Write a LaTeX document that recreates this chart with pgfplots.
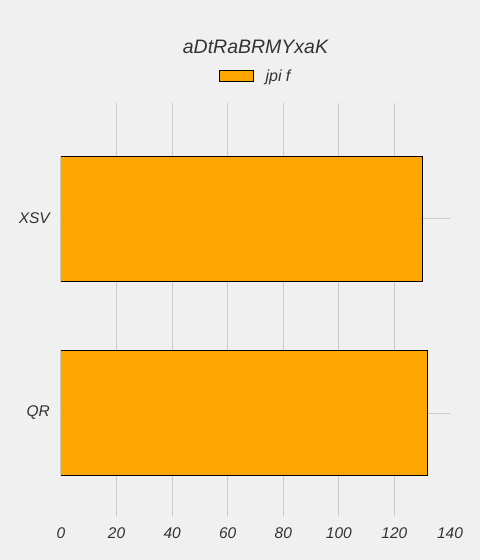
\documentclass[border=0pt]{standalone}
\usepackage{fontspec}
\setmainfont{Liberation Sans}
\usepackage{pgfplots}
\pgfplotsset{compat=1.18}
\definecolor{bg}{HTML}{F0F0F0}
\definecolor{gridc}{HTML}{CBCBCB}
\definecolor{txt}{HTML}{333333}
\definecolor{barc}{HTML}{FFA500}
\begin{document}
\begin{tikzpicture}
\fill[bg] (0pt,0pt) rectangle (480pt,560pt);
\useasboundingbox (0pt,0pt) rectangle (480pt,560pt);
\begin{axis}[
 at={(61pt,44.3pt)}, anchor=south west,
 scale only axis, width=389pt, height=412.7pt,
 xmin=0, xmax=140, ymin=-0.528, ymax=1.594,
 xbar, bar width=125pt,
 xtick={20,40,...,120}, ytick={0,1}, yticklabels={QR,XSV},
 extra x ticks={0,140}, extra x tick style={grid=none},
 axis line style={draw=none}, major tick length=0pt,
 xmajorgrids, ymajorgrids, grid style={gridc, line width=1pt},
 tick label style={font=\fontsize{15.5}{18}\selectfont\itshape, text=txt},
 /pgf/number format/assume math mode=true,
 xticklabel style={anchor=center, inner sep=0pt, yshift=-17.3pt},
 yticklabel style={anchor=east, inner sep=0pt, xshift=-11pt},
 legend style={at={(axis description cs:0.5,1.0643)}, anchor=center, draw=none, fill=none,
   font=\fontsize{16}{18}\selectfont\itshape, text=txt,
   /tikz/every odd column/.append style={column sep=10pt}},
 legend image code/.code={\draw[#1] (0pt,-5.5pt) rectangle (34pt,5.5pt);},
]
\addplot[fill=barc, draw=black, line width=1pt] coordinates {(132,0) (130,1)};
\addlegendentry{jpi f}
\end{axis}
\node[font=\fontsize{19.5}{22}\selectfont\itshape, text=txt] at (255.5pt,513pt) {aDtRaBRMYxaK};
\end{tikzpicture}
\end{document}
